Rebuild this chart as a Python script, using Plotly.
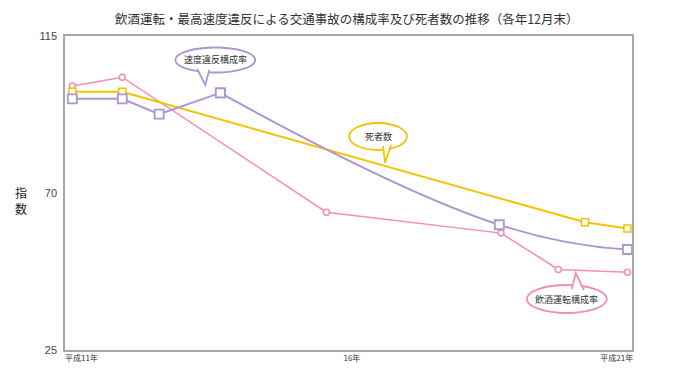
import plotly.graph_objects as go

# ---- data (x in 平成 years, y = index) ----
pink_x = [11.13, 12.01, 15.61, 18.69, 19.70, 20.92]
pink_y = [100.7, 103.2, 64.5, 58.5, 48.1, 47.3]

yellow_x = [11.13, 12.01, 20.17, 20.92]
yellow_y = [99.0, 99.0, 61.6, 59.8]

purple_x = [11.13, 12.01, 12.66, 13.74, 18.66, 20.92]
purple_y = [97.0, 97.0, 92.6, 98.7, 60.9, 53.8]

x_tick_vals = [11.29, 16.06, 20.73]
x_tick_text = ["平成11年", "16年", "平成21年"]
y_tick_vals = [25, 70, 115]

title_text = "飲酒運転・最高速度違反による交通事故の構成率及び死者数の推移（各年12月末）"
label_pink = "飲酒運転構成率"
label_yellow = "死者数"
label_purple = "速度違反構成率"

PINK = "#F28DB7"
YELLOW = "#F3C300"
PURPLE = "#AF95CD"
FONT = "Noto Sans CJK JP"

OFF = 8  # default page body margin
W, H = 680 - OFF, 383 - OFF
L, R, T, B = 64.5, 632.3, 36, 350   # plot frame in window pixels


def px(x):
    return (x - L) / (R - L)


def py(y):
    return (B - y) / (B - T)


fig = go.Figure()

fig.add_trace(go.Scatter(
    x=pink_x, y=pink_y, mode="lines+markers",
    line=dict(color=PINK, width=1.5),
    marker=dict(symbol="circle", size=6, color="white", line=dict(color=PINK, width=1.5)),
    showlegend=False, hoverinfo="skip"))

fig.add_trace(go.Scatter(
    x=yellow_x, y=yellow_y, mode="lines+markers",
    line=dict(color=YELLOW, width=2),
    marker=dict(symbol="square", size=7, color="white", line=dict(color=YELLOW, width=1.5)),
    showlegend=False, hoverinfo="skip"))

fig.add_trace(go.Scatter(
    x=purple_x[3:], y=purple_y[3:], mode="lines+markers",
    line=dict(color=PURPLE, width=2, shape="spline", smoothing=1.3),
    marker=dict(symbol="square", size=9, color="white", line=dict(color=PURPLE, width=1.8)),
    showlegend=False, hoverinfo="skip"))

fig.add_trace(go.Scatter(
    x=purple_x[:4], y=purple_y[:4], mode="lines+markers",
    line=dict(color=PURPLE, width=2),
    marker=dict(symbol="square", size=9, color="white", line=dict(color=PURPLE, width=1.8)),
    showlegend=False, hoverinfo="skip"))

shapes = []
annotations = []


def bubble(cx, cy, rx, ry, tail_l, tip, tail_r, color, text):
    shapes.append(dict(type="circle", xref="paper", yref="paper",
                       x0=px(cx - rx), x1=px(cx + rx), y0=py(cy + ry), y1=py(cy - ry),
                       line=dict(color=color, width=1.8), fillcolor="white", layer="above"))
    path = "M {} {} L {} {} L {} {}".format(px(tail_l[0]), py(tail_l[1]), px(tip[0]), py(tip[1]),
                                            px(tail_r[0]), py(tail_r[1]))
    shapes.append(dict(type="path", xref="paper", yref="paper", path=path,
                       line=dict(color=color, width=1.8), fillcolor="white", layer="above"))
    annotations.append(dict(x=px(cx), y=py(cy), xref="paper", yref="paper", text=text,
                            xanchor="center", yanchor="middle",
                            showarrow=False, font=dict(size=9, color="#333333", family=FONT)))


bubble(215, 60, 40, 12.5, (197, 69), (205, 85), (209, 70), PURPLE, label_purple)
bubble(378, 136.5, 29, 13.5, (383, 146), (385, 163), (391, 145), YELLOW, label_yellow)
bubble(567, 299, 40, 14, (572, 289), (576, 273), (584, 290), PINK, label_pink)

annotations.append(dict(x=px(20), y=py(200), xref="paper", yref="paper", text="指<br>数",
                        xanchor="center", yanchor="middle",
                        showarrow=False, font=dict(size=12, color="#222222", family=FONT)))

# title as annotation
annotations.append(dict(x=px(347), y=py(18.5), xref="paper", yref="paper", text=title_text,
                        xanchor="center", yanchor="middle", showarrow=False,
                        font=dict(size=12.5, color="#333333", family=FONT)))

fig.update_layout(
    width=W, height=H,
    margin=dict(l=L - OFF, r=680 - R, t=T - OFF, b=383 - B, pad=0),
    paper_bgcolor="white", plot_bgcolor="white",
    xaxis=dict(range=[11, 21], tickvals=x_tick_vals, ticktext=x_tick_text,
               showgrid=False, zeroline=False, showline=True, mirror=True,
               linecolor="#A8A8A8", linewidth=1.5, ticks="",
               tickfont=dict(size=8, color="#333333", family=FONT)),
    yaxis=dict(range=[25, 115], tickvals=y_tick_vals,
               showgrid=False, zeroline=False, showline=True, mirror=True,
               linecolor="#A8A8A8", linewidth=1.5, ticks="", ticklabelstandoff=4,
               tickfont=dict(size=11, color="#444444", family="Liberation Sans")),
    shapes=shapes, annotations=annotations,
)

fig.write_html("out.html")
